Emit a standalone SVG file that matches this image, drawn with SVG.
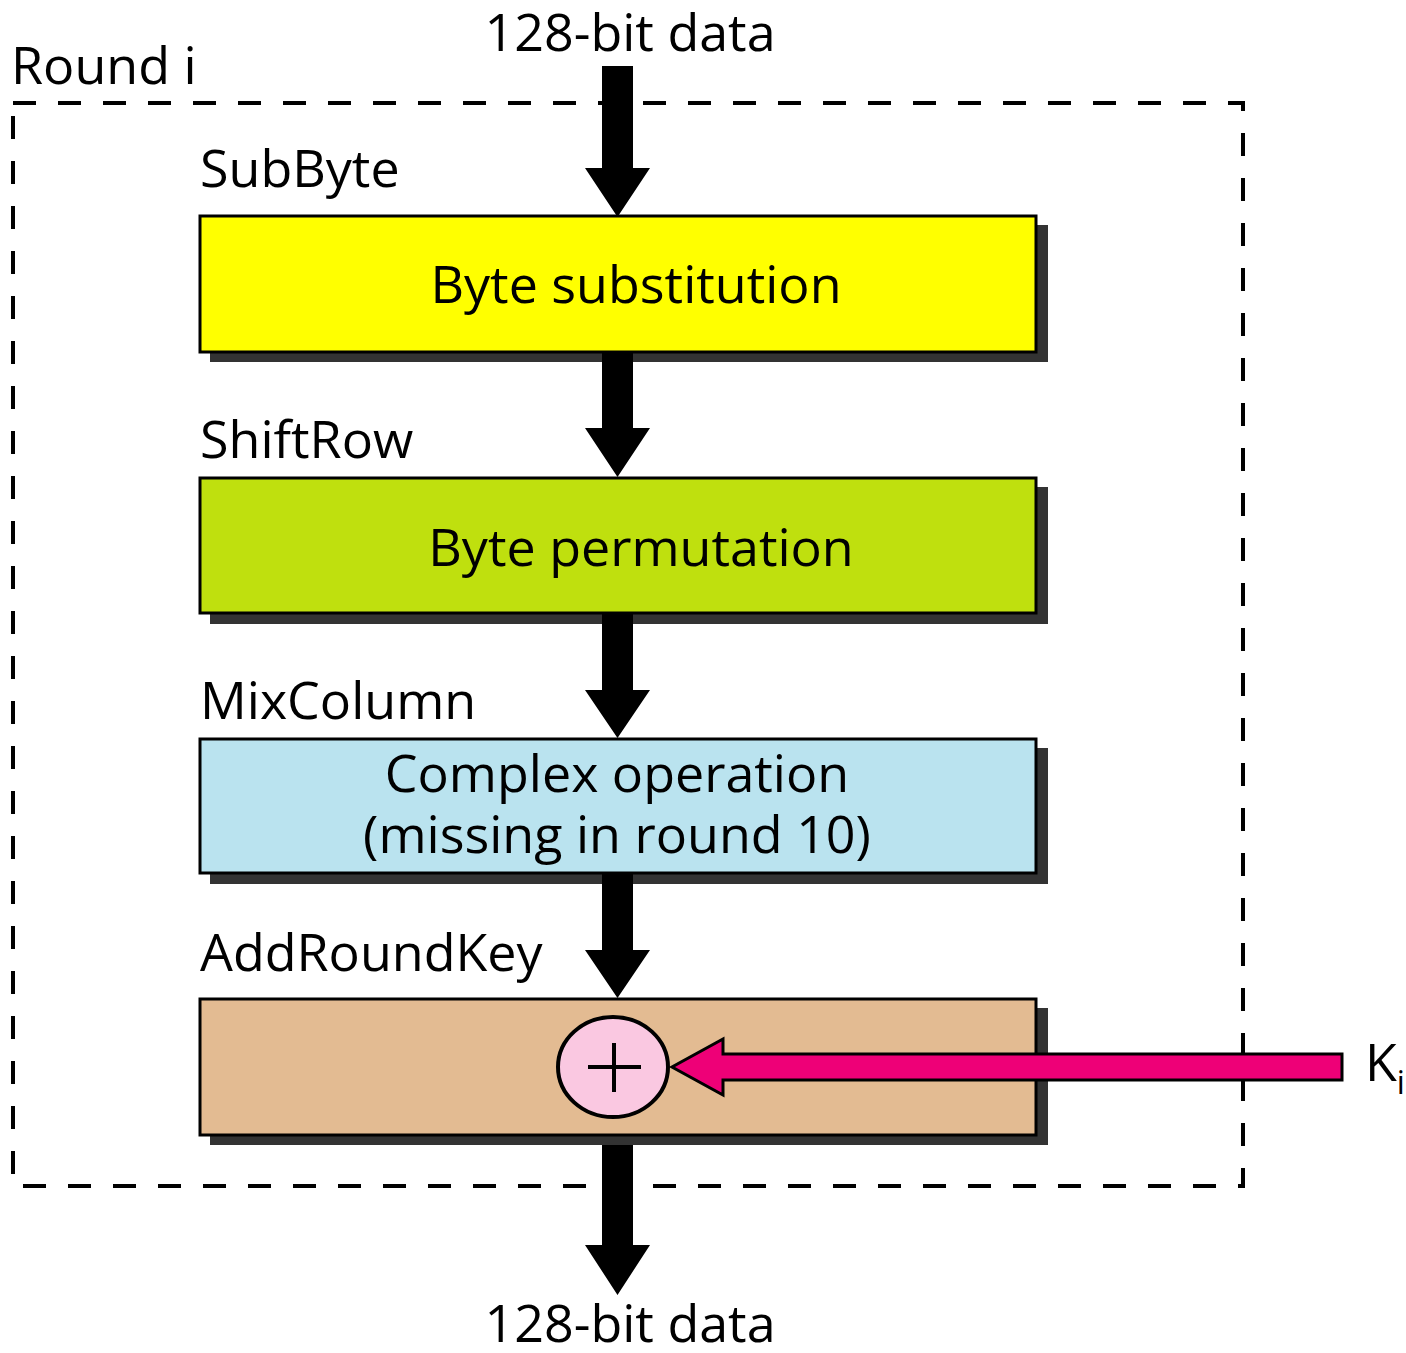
<svg xmlns="http://www.w3.org/2000/svg" width="1406" height="1353" viewBox="0 0 1406 1353">
<style>
text{font-family:"Open Sans","Noto Sans","DejaVu Sans",sans-serif;font-size:52px;fill:#000}
.c{text-anchor:middle}
.shadow{fill:#333}
.box{stroke:#000;stroke-width:3}
.arr{fill:#000}
</style>
<rect width="1406" height="1353" fill="#fff"/>
<g id="round">
<rect x="13" y="103" width="1230" height="1083" fill="none" stroke="#000" stroke-width="4" stroke-dasharray="23 22"/>
<text x="11" y="84">Round i</text>
</g>
<g id="top-label"><text class="c" x="630" y="51">128-bit data</text></g>
<g id="subbyte">
<text x="200" y="187">SubByte</text>
<rect class="shadow" x="210" y="225" width="838" height="137"/>
<rect class="box" x="200" y="216" width="836" height="136" fill="#FFFF00"/>
<text class="c" x="636" y="303">Byte substitution</text>
</g>
<g id="shiftrow">
<text x="200" y="458">ShiftRow</text>
<rect class="shadow" x="210" y="487" width="838" height="137"/>
<rect class="box" x="200" y="478" width="836" height="135" fill="#BFE00E"/>
<text class="c" x="641" y="566">Byte permutation</text>
</g>
<g id="mixcolumn">
<text x="200" y="719">MixColumn</text>
<rect class="shadow" x="210" y="748" width="838" height="136"/>
<rect class="box" x="200" y="739" width="836" height="134" fill="#BAE3EF"/>
<text class="c" x="617" y="792">Complex operation</text>
<text class="c" x="617" y="853">(missing in round 10)</text>
</g>
<g id="addroundkey">
<text x="200" y="971">AddRoundKey</text>
<rect class="shadow" x="210" y="1008" width="838" height="137"/>
<rect class="box" x="200" y="999" width="836" height="136" fill="#E3BB92"/>
</g>
<g id="connectors">
<polygon class="arr" points="602,66 633,66 633,168 650,168 617.5,217 585,168 602,168"/>
<polygon class="arr" points="602,353 633,353 633,428 650,428 617.5,477 585,428 602,428"/>
<polygon class="arr" points="602,614 633,614 633,690 650,690 617.5,738 585,690 602,690"/>
<polygon class="arr" points="602,874 633,874 633,950 650,950 617.5,998 585,950 602,950"/>
<polygon class="arr" points="602,1145 633,1145 633,1245 650,1245 617.5,1295 585,1245 602,1245"/>
<polygon points="1342,1054 1342,1080 723,1080 723,1095 672,1067 723,1039 723,1054" fill="#EE0077" stroke="#000" stroke-width="3"/>
</g>
<g id="xor">
<ellipse cx="613" cy="1067" rx="55" ry="50" fill="#FAC8E1" stroke="#000" stroke-width="4"/>
<path d="M588 1067H641M614 1043V1092" stroke="#000" stroke-width="4"/>
</g>
<g id="key"><text x="1365" y="1081">K<tspan font-size="32" dy="13">i</tspan></text></g>
<g id="bottom-label"><text class="c" x="630" y="1342">128-bit data</text></g>
</svg>
